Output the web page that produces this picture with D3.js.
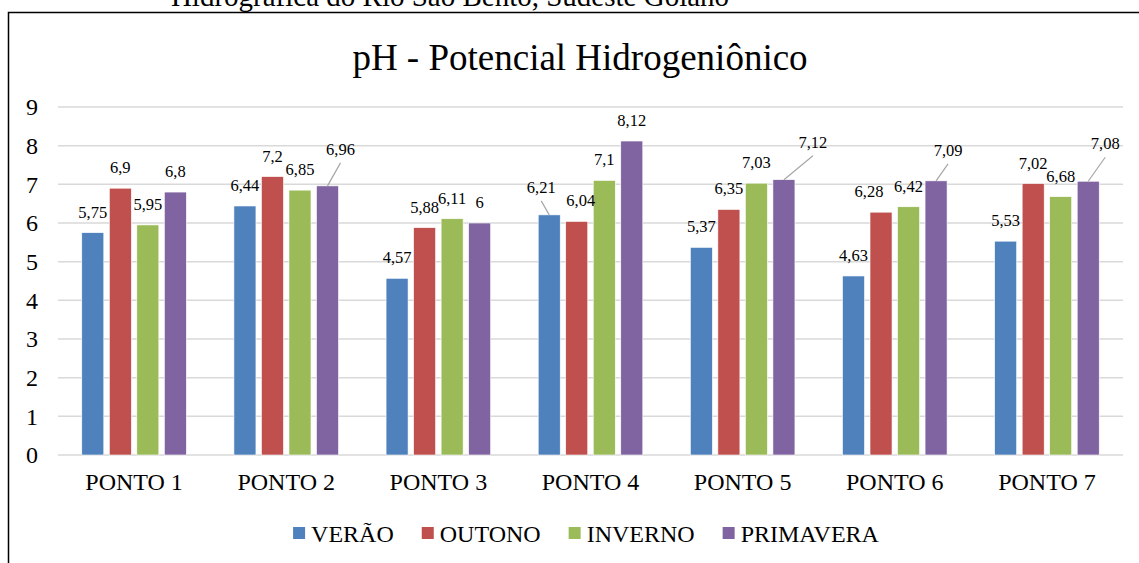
<!DOCTYPE html>
<html>
<head>
<meta charset="utf-8">
<script src="https://d3js.org/d3.v7.min.js"></script>
<style>
body { margin: 0; background: #fff; }
text { font-family: "Liberation Serif", "Times New Roman", serif; fill: #000; }
</style>
</head>
<body>
<svg width="1139" height="563"></svg>

<script>

// data
var categories = ["PONTO 1", "PONTO 2", "PONTO 3", "PONTO 4", "PONTO 5", "PONTO 6", "PONTO 7"];
var seasons = ["VERÃO", "OUTONO", "INVERNO", "PRIMAVERA"];
var verao     = [5.75, 6.44, 4.57, 6.21, 5.37, 4.63, 5.53];
var outono    = [6.9, 7.2, 5.88, 6.04, 6.35, 6.28, 7.02];
var inverno   = [5.95, 6.85, 6.11, 7.1, 7.03, 6.42, 6.68];
var primavera = [6.8, 6.96, 6, 8.12, 7.12, 7.09, 7.08];
var yTicks = [0, 1, 2, 3, 4, 5, 6, 7, 8, 9];

var series = [verao, outono, inverno, primavera];
var colors = ["#4F81BD", "#C0504D", "#9BBB59", "#8064A2"];

// labels that were dragged off their bars in the original (group-series: dx, dy, leader line)
var labelShift = {
    "1-3": [13, -16, true],
    "3-0": [-8, -7, true],
    "3-1": [4, 0, false],
    "4-3": [29, -17, true],
    "5-1": [-12, 0, false],
    "5-3": [12, -10, true],
    "6-3": [17, -17, true]
};

var svg = d3.select("svg");

var plotLeft = 58, plotRight = 1123, plotTop = 107, plotBottom = 455;

var x0 = d3.scaleBand().domain(categories).range([plotLeft, plotRight]).padding(0);
var x1 = d3.scaleBand().domain(d3.range(seasons.length))
    .range([0, x0.bandwidth()]).paddingInner(0.2).paddingOuter(0.864);
var yScale = d3.scaleLinear().domain([0, 9]).range([plotBottom, plotTop]);

// frame (only the left and top edges are in the picture)
svg.append("path")
    .attr("d", "M8.5,563 L8.5,12.5 L1139,12.5")
    .style("fill", "none")
    .style("stroke", "#000")
    .style("stroke-width", 1.5);

// caption of the figure, cut off at the top
svg.append("text")
    .attr("x", 450)
    .attr("y", 6)
    .attr("text-anchor", "middle")
    .style("font-size", "29px")
    .text("Hidrográfica do Rio São Bento, Sudeste Goiano");

// title
svg.append("text")
    .attr("x", 580)
    .attr("y", 70)
    .attr("text-anchor", "middle")
    .style("font-size", "37px")
    .text("pH - Potencial Hidrogeniônico");

// gridlines
svg.append("g").selectAll("line")
    .data(yTicks)
    .enter().append("line")
    .attr("x1", plotLeft).attr("x2", plotRight)
    .attr("y1", function (d) { return yScale(d); })
    .attr("y2", function (d) { return yScale(d); })
    .style("stroke", "#d9d9d9")
    .style("stroke-width", 1.5);

// y axis labels
var yAxis = svg.append("g")
    .attr("transform", "translate(" + 38 + ",0)")
    .call(d3.axisLeft(yScale).tickValues(yTicks).tickSize(0).tickPadding(0));
yAxis.select(".domain").remove();
yAxis.selectAll("text")
    .attr("dy", "0.33em")
    .style("font-family", "'Liberation Serif', 'Times New Roman', serif")
    .style("font-size", "24px")
    .attr("fill", "#000");

// x axis labels
var xAxis = svg.append("g")
    .attr("transform", "translate(0," + plotBottom + ")")
    .call(d3.axisBottom(x0).tickSize(0).tickPadding(0));
xAxis.select(".domain").remove();
xAxis.selectAll("text")
    .attr("y", 35)
    .attr("dy", 0)
    .style("font-family", "'Liberation Serif', 'Times New Roman', serif")
    .style("font-size", "24px")
    .attr("fill", "#000");

// bars
var groups = svg.append("g").selectAll("g")
    .data(categories)
    .enter().append("g")
    .attr("transform", function (d) { return "translate(" + x0(d) + ",0)"; });

groups.selectAll("rect")
    .data(function (d, i) { return series.map(function (s, j) { return { g: i, s: j, v: s[i] }; }); })
    .enter().append("rect")
    .attr("x", function (d) { return x1(d.s); })
    .attr("y", function (d) { return yScale(d.v); })
    .attr("width", x1.bandwidth())
    .attr("height", function (d) { return yScale(0) - yScale(d.v); })
    .style("fill", function (d) { return colors[d.s]; })
    .style("stroke", "#fff")
    .style("stroke-width", 0.6);

// data labels
var fmt = function (v) { return String(v).replace(".", ","); };
var labelData = [];
categories.forEach(function (c, i) {
    series.forEach(function (s, j) {
        var sh = labelShift[i + "-" + j] || [0, 0, false];
        var cx = x0(c) + x1(j) + x1.bandwidth() / 2;
        labelData.push({ v: s[i], bx: cx, by: yScale(s[i]), lx: cx + sh[0], ly: yScale(s[i]) - 15 + sh[1], lead: sh[2] });
    });
});

svg.append("g").selectAll("line")
    .data(labelData.filter(function (d) { return d.lead; }))
    .enter().append("line")
    .attr("x1", function (d) { return d.bx; })
    .attr("y1", function (d) { return d.by; })
    .attr("x2", function (d) { return d.lx; })
    .attr("y2", function (d) { return d.ly + 8; })
    .style("stroke", "#a6a6a6")
    .style("stroke-width", 1.2);

svg.append("g").selectAll("text")
    .data(labelData)
    .enter().append("text")
    .attr("x", function (d) { return d.lx; })
    .attr("y", function (d) { return d.ly; })
    .attr("text-anchor", "middle")
    .style("font-size", "16.5px")
    .text(function (d) { return fmt(d.v); });

// legend
var legend = svg.append("g").attr("transform", "translate(0,539)");
var items = legend.selectAll("g").data(seasons).enter().append("g");
items.append("rect")
    .attr("y", -12)
    .attr("width", 12).attr("height", 12)
    .style("fill", function (d, i) { return colors[i]; });
items.append("text")
    .attr("x", 18)
    .attr("y", 3)
    .style("font-size", "24px")
    .text(function (d) { return d; });

var widths = [];
items.each(function () { widths.push(d3.select(this).select("text").node().getComputedTextLength() + 18); });
var total = d3.sum(widths) + 28 * (widths.length - 1);
var pos = 586 - total / 2;
items.attr("transform", function (d, i) {
    var p = pos;
    pos += widths[i] + 28;
    return "translate(" + p + ",0)";
});

</script>
</body>
</html>
